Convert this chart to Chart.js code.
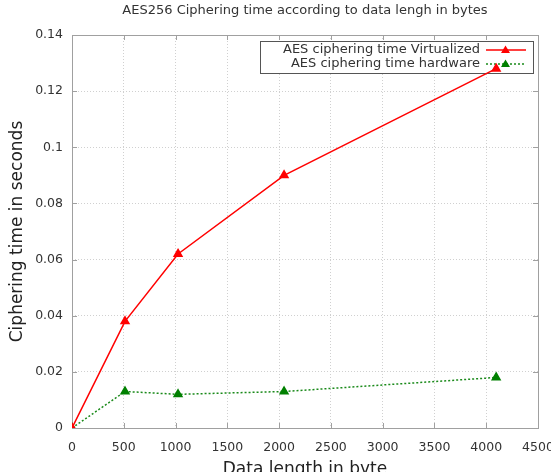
<!DOCTYPE html>
<html>
<head>
<meta charset="utf-8">
<title>AES256 Ciphering time</title>
<script src="https://cdn.jsdelivr.net/npm/chart.js@4/dist/chart.umd.min.js"></script>
<style>
  html, body { margin: 0; padding: 0; background: #fff; }
  #wrap { width: 551px; height: 472px; }
</style>
</head>
<body>
<div id="wrap"><canvas id="c" width="551" height="472"></canvas></div>
<script>
var chartTitle = 'AES256 Ciphering time according to data lengh in bytes';
var xTitle = 'Data length in byte';
var yTitle = 'Ciphering time in seconds';

// data length in bytes
var dataLengths = [0, 512, 1024, 2048, 4096];
var virtualizedTimes = [0, 0.038, 0.062, 0.090, 0.128];
var hardwareTimes = [0, 0.013, 0.012, 0.013, 0.018];

var seriesNames = ['AES ciphering time Virtualized', 'AES ciphering time hardware'];
var xTicks = [0, 500, 1000, 1500, 2000, 2500, 3000, 3500, 4000, 4500];
var yTicks = [0, 0.02, 0.04, 0.06, 0.08, 0.1, 0.12, 0.14];

var FONT = '"DejaVu Sans", "Liberation Sans", sans-serif';

function toPoints(xs, ys) {
    var out = [];
    for (var i = 0; i < xs.length; i++) out.push({ x: xs[i], y: ys[i] });
    return out;
}

// frame, title and an inside legend, drawn the gnuplot way
var gnuplotLook = {
    id: 'gnuplotLook',
    beforeDatasetsDraw: function (chart) {
        var ctx = chart.ctx, a = chart.chartArea;
        ctx.save();
        // plot frame
        ctx.strokeStyle = '#a0a0a0';
        ctx.lineWidth = 1;
        ctx.setLineDash([]);
        ctx.strokeRect(a.left + 0.5, a.top + 0.5, a.right - a.left, a.bottom - a.top);

        // small inward tick marks
        var xs = chart.scales.x, ys = chart.scales.y;
        ctx.beginPath();
        xTicks.forEach(function (v) {
            var px = Math.round(xs.getPixelForValue(v)) + 0.5;
            ctx.moveTo(px, a.bottom); ctx.lineTo(px, a.bottom - 5);
            ctx.moveTo(px, a.top); ctx.lineTo(px, a.top + 5);
        });
        yTicks.forEach(function (v) {
            var py = Math.round(ys.getPixelForValue(v)) + 0.5;
            ctx.moveTo(a.left, py); ctx.lineTo(a.left + 5, py);
            ctx.moveTo(a.right, py); ctx.lineTo(a.right - 5, py);
        });
        ctx.stroke();

        // title
        ctx.fillStyle = '#333';
        ctx.font = '13px ' + FONT;
        ctx.textAlign = 'center';
        ctx.textBaseline = 'middle';
        ctx.fillText(chartTitle, (a.left + a.right) / 2, 11);

        // legend box (points drawn later may sit on top of it)
        var bx = 260, by = 41, bw = 273, bh = 32;
        ctx.fillStyle = '#fff';
        ctx.fillRect(bx, by, bw, bh);
        ctx.strokeStyle = '#555';
        ctx.strokeRect(bx + 0.5, by + 0.5, bw, bh);
        chart.data.datasets.forEach(function (ds, i) {
            var ty = 50 + i * 14;
            ctx.fillStyle = '#333';
            ctx.font = '13px ' + FONT;
            ctx.textAlign = 'right';
            ctx.fillText(ds.label, 480, ty);
            ctx.strokeStyle = ds.borderColor;
            ctx.lineWidth = ds.borderWidth;
            ctx.setLineDash(ds.borderDash || []);
            ctx.beginPath();
            ctx.moveTo(486, ty); ctx.lineTo(526, ty);
            ctx.stroke();
            ctx.setLineDash([]);
            ctx.fillStyle = ds.pointBackgroundColor;
            ctx.beginPath();
            ctx.moveTo(505.5, ty - 4.5);
            ctx.lineTo(510, ty + 3);
            ctx.lineTo(501, ty + 3);
            ctx.closePath();
            ctx.fill();
        });
        ctx.restore();
    }
};

new Chart(document.getElementById('c'), {
    type: 'line',
    data: {
        datasets: [{
            label: seriesNames[0],
            data: toPoints(dataLengths, virtualizedTimes),
            borderColor: '#ff0000',
            backgroundColor: '#ff0000',
            pointBackgroundColor: '#ff0000',
            pointBorderColor: '#ff0000',
            borderWidth: 1.5,
            pointStyle: 'triangle',
            pointRadius: 4.5,
            tension: 0
        }, {
            label: seriesNames[1],
            data: toPoints(dataLengths, hardwareTimes),
            borderColor: '#1a8a1a',
            backgroundColor: '#1a8a1a',
            pointBackgroundColor: '#008000',
            pointBorderColor: '#008000',
            borderWidth: 1.5,
            borderDash: [2, 2],
            pointStyle: 'triangle',
            pointRadius: 4.5,
            tension: 0
        }]
    },
    options: {
        responsive: false,
        animation: false,
        layout: { padding: { top: 35, right: 13, left: 0, bottom: 0 } },
        plugins: {
            legend: { display: false },
            title: { display: false },
            tooltip: { enabled: false }
        },
        scales: {
            x: {
                type: 'linear',
                min: 0, max: 4500,
                afterBuildTicks: function (s) { s.ticks = xTicks.map(function (v) { return { value: v }; }); },
                afterFit: function (s) { s.height = 44; s.paddingLeft = 0; s.paddingRight = 0; },
                border: { display: false, dash: [1, 2] },
                grid: { color: '#d0d0d0', drawTicks: false, lineWidth: 1 },
                ticks: {
                    color: '#333', padding: 12, maxRotation: 0, autoSkip: false,
                    font: { family: FONT, size: 12.5 },
                    callback: function (v) { return String(v); }
                },
                title: {
                    display: true, text: xTitle, color: '#222',
                    font: { family: FONT, size: 17 },
                    padding: { top: 0, bottom: -8 }
                }
            },
            y: {
                type: 'linear',
                min: 0, max: 0.14,
                afterBuildTicks: function (s) { s.ticks = yTicks.map(function (v) { return { value: v }; }); },
                afterFit: function (s) { s.width = 72; s.paddingTop = 0; s.paddingBottom = 0; },
                border: { display: false, dash: [1, 2] },
                grid: { color: '#d0d0d0', drawTicks: false, lineWidth: 1 },
                ticks: {
                    color: '#333', padding: 9, autoSkip: false,
                    font: { family: FONT, size: 12.5 },
                    callback: function (v) { return String(+v.toFixed(2)); }
                },
                title: {
                    display: true, text: yTitle, color: '#222',
                    font: { family: FONT, size: 17 },
                    padding: { top: 7, bottom: 0 }
                }
            }
        }
    },
    plugins: [gnuplotLook]
});
</script>
</body>
</html>
